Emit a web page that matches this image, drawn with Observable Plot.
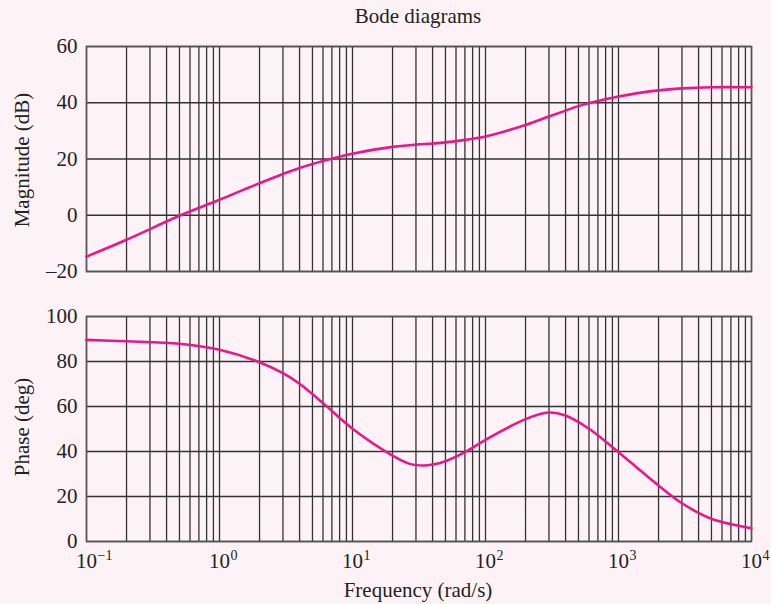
<!DOCTYPE html>
<html>
<head>
<meta charset="utf-8">
<script src="https://cdn.jsdelivr.net/npm/d3@7"></script>
<script src="https://cdn.jsdelivr.net/npm/@observablehq/plot@0.6"></script>
<style>
  html, body { margin: 0; padding: 0; background: #fdf3f7; }
  #wrap { position: relative; width: 771px; height: 604px; background: #fdf3f7; font-family: "Liberation Serif", "Times New Roman", serif; color: #222; overflow: hidden; }
  .lbl { position: absolute; font-size: 21px; white-space: nowrap; line-height: 1; }
  .rot { transform: translate(-50%, -50%) rotate(-90deg); }
  .ctr { transform: translate(-50%, 0); }
  #top, #bot { position: absolute; left: 0; }
  #top { top: 0; }
  #bot { top: 290px; }
</style>
</head>
<body>
<div id="wrap">
  <div id="top"></div>
  <div id="bot"></div>
</div>
<script>
// Frequencies (rad/s)
const freq = [0.1, 0.2, 0.5, 1, 2, 4, 6, 10, 20, 30, 40, 50, 70, 100, 200, 300, 400, 500, 1000, 2000, 3000, 5000, 10000];
// Magnitude (dB)
const magnitude = [-14.7, -8.7, -0.2, 5.5, 11.4, 16.8, 19.3, 21.9, 24.3, 25.1, 25.5, 25.9, 26.8, 28.0, 32.1, 35.1, 37.2, 38.8, 42.2, 44.4, 45.1, 45.5, 45.5];
// Phase frequencies and values (deg)
const phaseFreq = [0.1, 0.2, 0.5, 1, 2, 3, 4, 6, 10, 20, 27, 34, 40, 50, 70, 100, 200, 300, 400, 600, 1000, 2000, 3000, 5000, 10000];
const phase = [89.6, 89.0, 87.9, 85.2, 79.7, 74.8, 70.1, 61.5, 50.1, 38.2, 34.5, 33.8, 34.2, 35.7, 39.7, 45.2, 54.4, 57.3, 56.0, 50.1, 39.7, 24.9, 17.0, 10.1, 5.9];

// Axis ticks
const magTicks = [-20, 0, 20, 40, 60];
const phaseTicks = [0, 20, 40, 60, 80, 100];
const decades = [0.1, 1, 10, 100, 1000, 10000];
const decadeExp = ["\u22121", "0", "1", "2", "3", "4"];
const gridMantissa = [1, 2, 3, 4, 5, 6, 7, 8, 9];

const gridX = [];
for (let k = 0; k < decades.length - 1; k++) for (const m of gridMantissa) gridX.push(+(m * decades[k]).toPrecision(6));
gridX.push(10000);

const title = "Bode diagrams";
const magLabel = "Magnitude (dB)";
const phaseLabel = "Phase (deg)";
const xLabel = "Frequency (rad/s)";

const lineColor = "#e8178a";
const gridColor = "#333333";
const font = "'Liberation Serif', 'Times New Roman', serif";

const magData = freq.map((f, i) => ({f, v: magnitude[i]}));
const phData = phaseFreq.map((f, i) => ({f, v: phase[i]}));
const decData = decades.map((d, i) => ({d, e: decadeExp[i]}));

const common = {
  width: 771,
  marginLeft: 86,
  marginRight: 20,
  style: {fontFamily: font, fontSize: "21px", background: "transparent", color: "#222", overflow: "visible"}
};

const topPlot = Plot.plot({
  ...common,
  height: 290,
  marginTop: 46,
  marginBottom: 19,
  x: {type: "log", domain: [0.1, 10000], axis: null},
  y: {domain: [-20, 60], ticks: magTicks, tickSize: 0, tickPadding: 9, label: null, tickFormat: d => d < 0 ? "\u2013" + Math.abs(d) : String(d)},
  marks: [
    Plot.ruleX(gridX, {stroke: gridColor, strokeWidth: 1.3}),
    Plot.ruleY(magTicks, {stroke: gridColor, strokeWidth: 1.3}),
    Plot.frame({stroke: "#555", strokeWidth: 1.5}),
    Plot.line(magData, {x: "f", y: "v", stroke: lineColor, strokeWidth: 2.6, curve: "catmull-rom"})
  ]
});

const botPlot = Plot.plot({
  ...common,
  height: 314,
  marginTop: 26,
  marginBottom: 63,
  x: {type: "log", domain: [0.1, 10000], axis: null},
  y: {domain: [0, 100], ticks: phaseTicks, tickSize: 0, tickPadding: 9, label: null},
  marks: [
    Plot.ruleX(gridX, {stroke: gridColor, strokeWidth: 1.3}),
    Plot.ruleY(phaseTicks, {stroke: gridColor, strokeWidth: 1.3}),
    Plot.frame({stroke: "#555", strokeWidth: 1.5}),
    Plot.line(phData, {x: "f", y: "v", stroke: lineColor, strokeWidth: 2.6, curve: "catmull-rom"}),
    Plot.text(decData, {x: "d", text: () => "10", frameAnchor: "bottom", lineAnchor: "bottom", dy: 26, fontSize: 21, fill: "#222"}),
    Plot.text(decData, {x: "d", text: "e", frameAnchor: "bottom", lineAnchor: "bottom", dy: 18, dx: 11, textAnchor: "start", fontSize: 14, fill: "#222"})
  ]
});

document.getElementById("top").appendChild(topPlot);
document.getElementById("bot").appendChild(botPlot);

const wrap = document.getElementById("wrap");
function addLabel(text, x, y, cls) {
  const d = document.createElement("div");
  d.className = "lbl " + cls;
  d.textContent = text;
  d.style.left = x + "px";
  d.style.top = y + "px";
  wrap.appendChild(d);
}
addLabel(title, 418, 6, "ctr");
addLabel(xLabel, 418, 580, "ctr");
addLabel(magLabel, 22, 160, "rot");
addLabel(phaseLabel, 22, 427, "rot");
</script>
</body>
</html>
